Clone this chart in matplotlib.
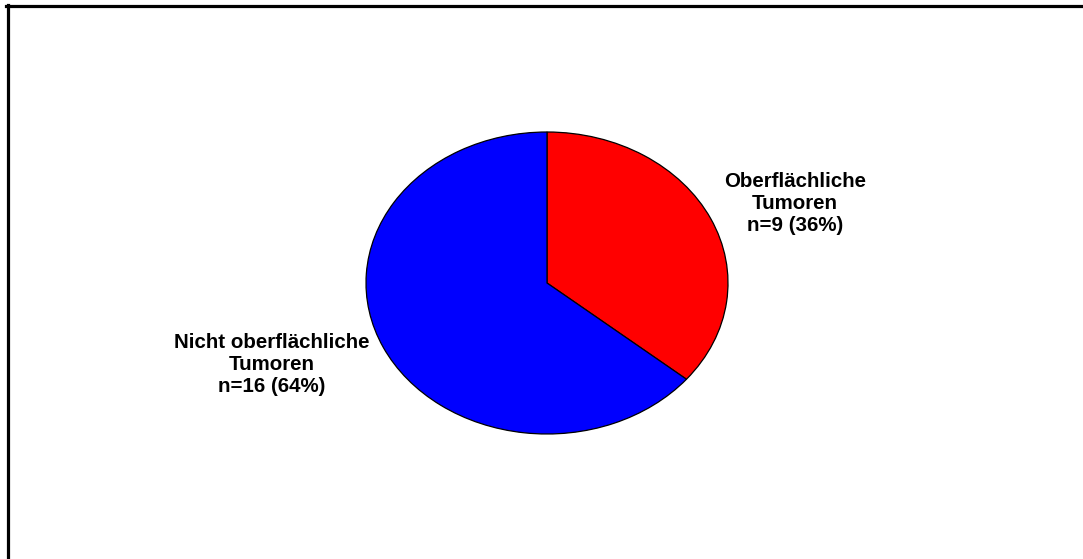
import matplotlib
matplotlib.use("Agg")
import matplotlib.pyplot as plt
from matplotlib.lines import Line2D

plt.rcParams['font.family'] = ['Liberation Sans', 'DejaVu Sans']

# Tumour categories and counts
categories = ["Oberflächliche\nTumoren", "Nicht oberflächliche\nTumoren"]
counts = [9, 16]
colors = ["#FF0000", "#0000FF"]

W, H = 1083, 559
fig = plt.figure(figsize=(W / 100, H / 100), dpi=100)
fig.patch.set_facecolor("white")

# Elliptical pie: the axes box is wider than tall and aspect is left free
ax = fig.add_axes([366 / W, (H - 434) / H, 362 / W, 302 / H])
wedges, _ = ax.pie(counts, colors=colors, startangle=90, counterclock=False,
                   wedgeprops=dict(edgecolor="black", linewidth=0.9))
ax.set_aspect("auto")
ax.set_xlim(-1, 1)
ax.set_ylim(-1, 1)
ax.axis("off")

total = sum(counts)
label_pos = [(795, 204), (272, 365)]
for cat, n, (px, py) in zip(categories, counts, label_pos):
    pct = round(100 * n / total)
    fig.text(px / W, 1 - py / H, f"{cat}\nn={n} ({pct}%)",
             ha="center", va="center", fontsize=14.8, fontweight="bold",
             linespacing=1.2)

# Frame lines along the top and left edges
fig.add_artist(Line2D([6 / W, 1.0], [1 - 5.5 / H, 1 - 5.5 / H],
                      transform=fig.transFigure, color="black", linewidth=2.3))
fig.add_artist(Line2D([7.5 / W, 7.5 / W], [0.0, 1 - 4.5 / H],
                      transform=fig.transFigure, color="black", linewidth=2.3))

fig.savefig("out.png", dpi=100)
